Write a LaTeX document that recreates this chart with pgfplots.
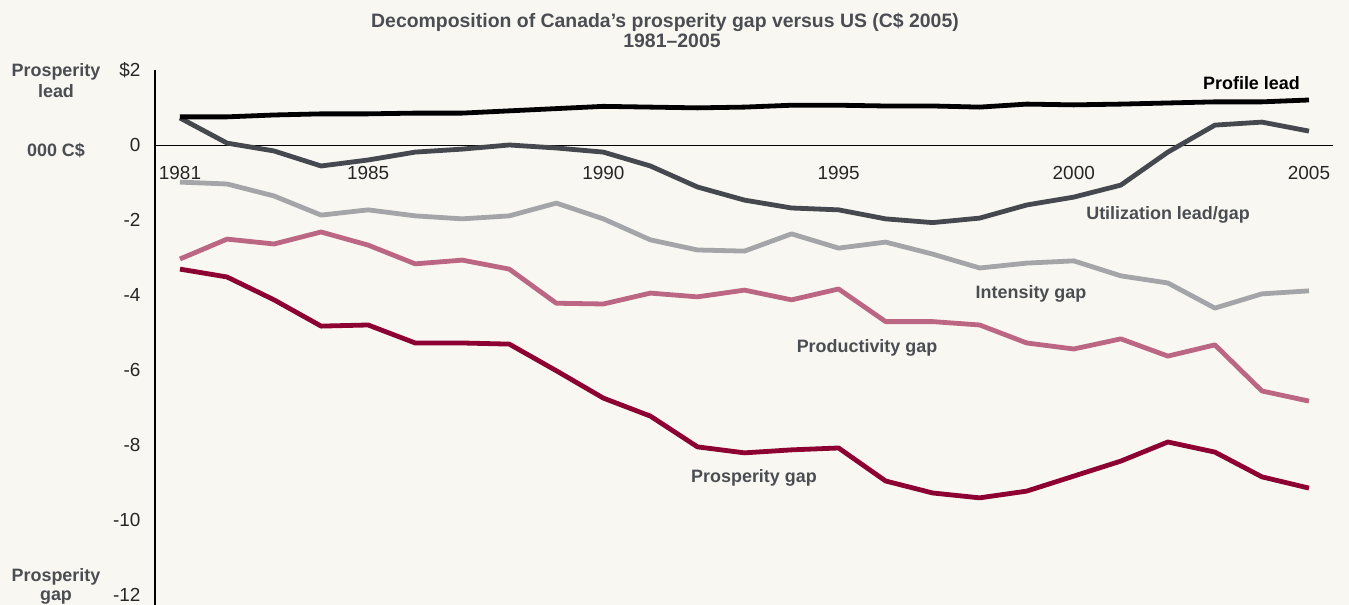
\documentclass[border=0pt]{standalone}
\usepackage{pgfplots}
\pgfplotsset{compat=1.18}
\usepackage{fontspec}
\setmainfont{Liberation Sans}
\definecolor{bg}{HTML}{F9F7F1}
\definecolor{txt}{HTML}{4A4D52}
\definecolor{util}{HTML}{45484E}
\definecolor{inten}{HTML}{A3A5A8}
\definecolor{prod}{HTML}{BB6683}
\definecolor{prosp}{HTML}{8C0032}
\begin{document}
\begin{tikzpicture}[x=1bp,y=1bp]
\fill[bg] (0,0) rectangle (1349,605);
\useasboundingbox (0,0) rectangle (1349,605);
\begin{axis}[at={(155bp,0bp)}, anchor=south west, scale only axis,
  width=1178bp, height=535bp,
  xmin=1980.469, xmax=2005.511, ymin=-12.267, ymax=2,
  axis x line=middle, axis y line=left,
  x axis line style={-, black, line width=0.8bp},
  y axis line style={-, black, line width=1.3bp},
  major tick length=0pt,
  hide obscured x ticks=false, hide obscured y ticks=false,
  xtick={1981,1985,1990,1995,2000,2005},
  xticklabels={1981,1985,1990,1995,2000,2005},
  ytick={-12,-10,-8,-6,-4,-2,0,2},
  yticklabels={-12,-10,-8,-6,-4,-2,0,\$2},
  /pgf/number format/assume math mode=true,
  xticklabel style={font=\fontsize{19}{22}\selectfont, text=black!85, anchor=north, yshift=-17.5bp},
  yticklabel style={font=\fontsize{19}{22}\selectfont, text=black!85, anchor=east, xshift=-11bp},
  clip=false,
  every axis plot/.append style={line width=4.8bp, line join=round, no markers},
]
\addplot[prosp] coordinates {(1981,-3.31)(1982,-3.52)(1983,-4.13)(1984,-4.83)(1985,-4.80)(1986,-5.28)(1987,-5.28)(1988,-5.31)(1989,-6.02)(1990,-6.75)(1991,-7.23)(1992,-8.05)(1993,-8.21)(1994,-8.13)(1995,-8.08)(1996,-8.96)(1997,-9.28)(1998,-9.41)(1999,-9.23)(2000,-8.83)(2001,-8.43)(2002,-7.92)(2003,-8.19)(2004,-8.85)(2005,-9.15)};
\addplot[prod] coordinates {(1981,-3.04)(1982,-2.51)(1983,-2.64)(1984,-2.32)(1985,-2.67)(1986,-3.17)(1987,-3.07)(1988,-3.31)(1989,-4.22)(1990,-4.24)(1991,-3.95)(1992,-4.05)(1993,-3.87)(1994,-4.13)(1995,-3.84)(1996,-4.71)(1997,-4.71)(1998,-4.80)(1999,-5.28)(2000,-5.44)(2001,-5.17)(2002,-5.63)(2003,-5.33)(2004,-6.56)(2005,-6.83)};
\addplot[inten] coordinates {(1981,-0.99)(1982,-1.04)(1983,-1.36)(1984,-1.87)(1985,-1.73)(1986,-1.89)(1987,-1.97)(1988,-1.89)(1989,-1.55)(1990,-1.97)(1991,-2.53)(1992,-2.80)(1993,-2.83)(1994,-2.37)(1995,-2.75)(1996,-2.59)(1997,-2.91)(1998,-3.28)(1999,-3.15)(2000,-3.09)(2001,-3.49)(2002,-3.68)(2003,-4.35)(2004,-3.97)(2005,-3.89)};
\addplot[util] coordinates {(1981,0.72)(1982,0.05)(1983,-0.16)(1984,-0.56)(1985,-0.40)(1986,-0.19)(1987,-0.11)(1988,0.0)(1989,-0.08)(1990,-0.19)(1991,-0.56)(1992,-1.12)(1993,-1.47)(1994,-1.68)(1995,-1.73)(1996,-1.97)(1997,-2.07)(1998,-1.95)(1999,-1.60)(2000,-1.39)(2001,-1.07)(2002,-0.19)(2003,0.53)(2004,0.61)(2005,0.37)};
\addplot[black] coordinates {(1981,0.75)(1982,0.75)(1983,0.80)(1984,0.83)(1985,0.83)(1986,0.85)(1987,0.85)(1988,0.91)(1989,0.97)(1990,1.03)(1991,1.01)(1992,0.99)(1993,1.01)(1994,1.06)(1995,1.06)(1996,1.04)(1997,1.04)(1998,1.01)(1999,1.09)(2000,1.07)(2001,1.09)(2002,1.12)(2003,1.15)(2004,1.15)(2005,1.20)};
\end{axis}
\begin{scope}[every node/.style={inner sep=0pt, text=txt, font=\bfseries\fontsize{18}{21}\selectfont}]
\node[anchor=base, font=\bfseries\fontsize{19.5}{22}\selectfont] at (665,577) {Decomposition of Canada’s prosperity gap versus US (C\$ 2005)};
\node[anchor=base, font=\bfseries\fontsize{19.5}{22}\selectfont] at (672,557) {1981–2005};
\node[anchor=base east, text=black] at (1300,515) {Profile lead};
\node[anchor=base] at (1168,385) {Utilization lead/gap};
\node[anchor=base] at (1031,306) {Intensity gap};
\node[anchor=base] at (867,252) {Productivity gap};
\node[anchor=base] at (754,122) {Prosperity gap};
\node[anchor=base] at (56,528) {Prosperity};
\node[anchor=base] at (56,507) {lead};
\node[anchor=base] at (56,448) {000 C\$};
\node[anchor=base] at (56,23) {Prosperity};
\node[anchor=base] at (56,4) {gap};
\end{scope}
\end{tikzpicture}
\end{document}
